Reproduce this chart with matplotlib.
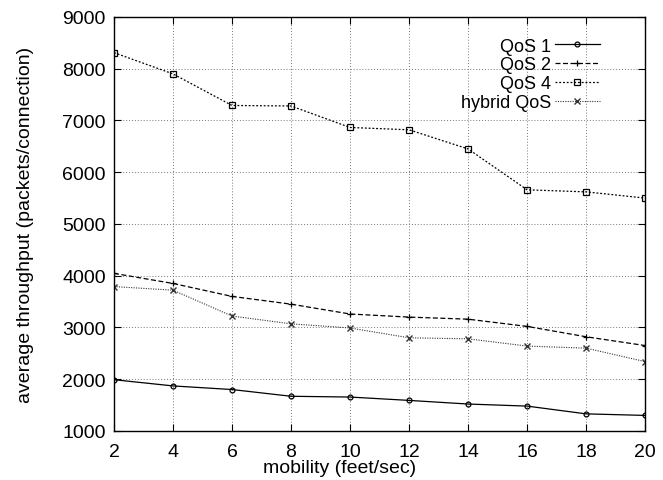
import matplotlib
matplotlib.use("Agg")
from matplotlib import pyplot as plt

# Throughput versus node mobility for each QoS scheme
mobility = [2, 4, 6, 8, 10, 12, 14, 16, 18, 20]
qos1 = [1990, 1870, 1800, 1670, 1655, 1590, 1520, 1480, 1330, 1300]
qos2 = [4045, 3850, 3600, 3450, 3260, 3200, 3160, 3020, 2820, 2650]
qos4 = [8310, 7900, 7290, 7280, 6865, 6820, 6450, 5660, 5620, 5500]
hybrid = [3790, 3720, 3220, 3070, 2990, 2800, 2780, 2640, 2600, 2340]

plt.rcParams['font.family'] = ['Liberation Sans', 'DejaVu Sans']

fig = plt.figure(figsize=(6.63, 4.81), dpi=100)
ax = fig.add_axes([0.172, 0.102, 0.801, 0.8606])

ax.plot(mobility, qos1, color='black', linestyle='-', linewidth=0.9,
        marker='o', markersize=3.5, markerfacecolor='none', markeredgewidth=0.9,
        label='QoS 1')
ax.plot(mobility, qos2, color='black', linestyle=(0, (4, 2)), linewidth=0.9,
        marker='+', markersize=5, markeredgewidth=0.9, label='QoS 2')
ax.plot(mobility, qos4, color='black', linestyle=(0, (1.5, 1.5)), linewidth=0.9,
        marker='s', markersize=4.5, markerfacecolor='none', markeredgewidth=0.9,
        label='QoS 4')
ax.plot(mobility, hybrid, color='#333333', linestyle=(0, (1, 1.2)), linewidth=0.8,
        marker='x', markersize=4.5, markeredgewidth=1.0, label='hybrid QoS')

ax.set_xlim(2, 20)
ax.set_ylim(1000, 9000)
ax.set_xticks(mobility)
ax.set_yticks(range(1000, 9001, 1000))
ax.tick_params(direction='in', top=True, right=True, length=5, width=0.8,
               labelsize=14, pad=6)
ax.tick_params(axis='x', pad=9)
ax.grid(True, color='#777777', linestyle=(0, (1, 2)), linewidth=0.7)
for spine in ax.spines.values():
    spine.set_linewidth(1.0)

ax.set_xlabel('mobility (feet/sec)', fontsize=14, va='center')
ax.xaxis.set_label_coords(0.4256, -0.088)
ax.set_ylabel('average throughput (packets/connection)', fontsize=14, va='center')
ax.yaxis.set_label_coords(-0.166, 0.5)

leg = ax.legend(loc='upper right', bbox_to_anchor=(0.915, 0.95), frameon=False,
                markerfirst=False, fontsize=13, handlelength=2.5,
                handletextpad=0.2, labelspacing=0.1, borderaxespad=0,
                borderpad=0)
for t in leg.get_texts():
    t.set_ha('right')
leg._legend_box.align = 'right'

fig.savefig('out.png', dpi=100)
